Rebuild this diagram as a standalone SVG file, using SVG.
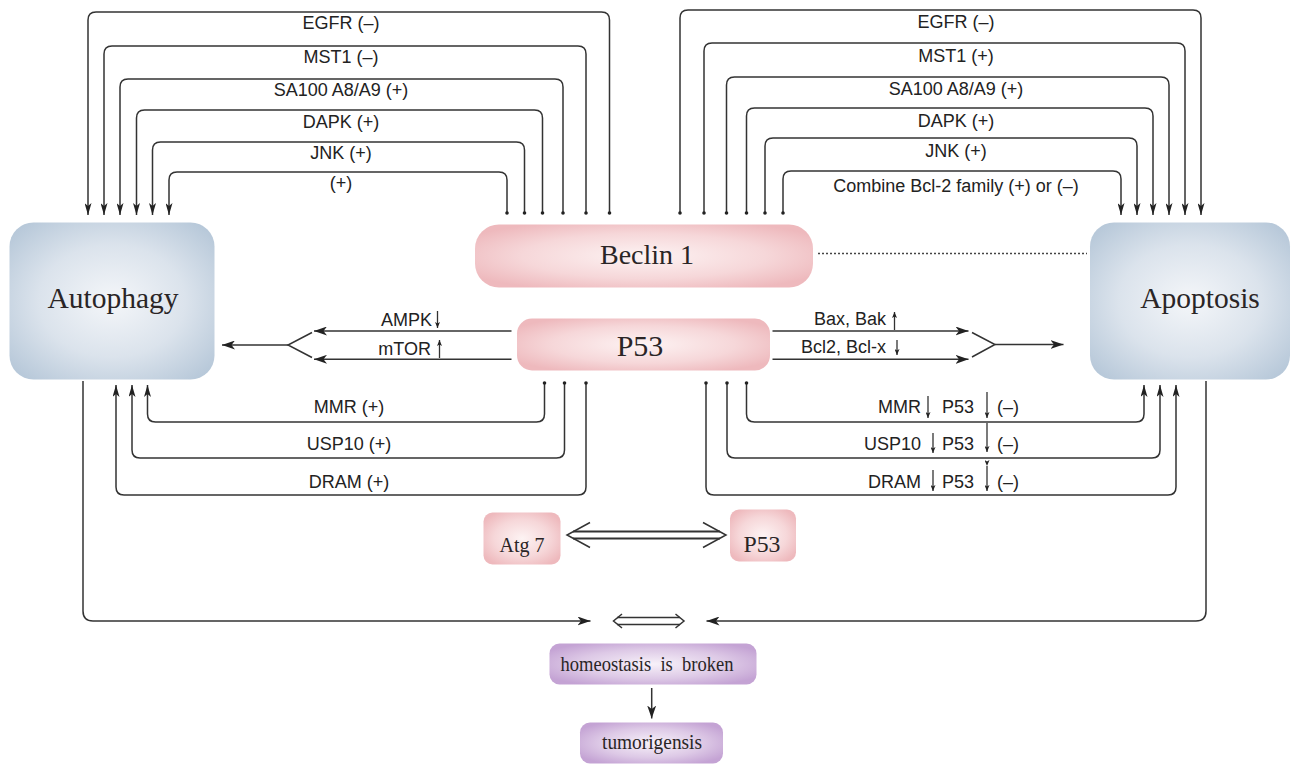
<svg xmlns="http://www.w3.org/2000/svg" width="1295" height="764" viewBox="0 0 1295 764">
<style>
.ln{fill:none;stroke:#333;stroke-width:1.5}
.sm{fill:none;stroke:#333;stroke-width:1.3}
.lab{font-family:"Liberation Sans",Arial,sans-serif;font-size:18px;fill:#222}
.ser{font-family:"Liberation Serif","Times New Roman",serif;fill:#2a2526}
.c{text-anchor:middle}
.e{text-anchor:end}
</style>
<defs>
<radialGradient id="gBlue" cx="50%" cy="50%" r="65%">
<stop offset="0" stop-color="#f4f6f9"/>
<stop offset="0.55" stop-color="#dbe3ec"/>
<stop offset="1" stop-color="#b7c8d9"/>
</radialGradient>
<radialGradient id="gPink" cx="50%" cy="50%" r="60%">
<stop offset="0" stop-color="#fdf3f3"/>
<stop offset="0.6" stop-color="#f6d7d9"/>
<stop offset="1" stop-color="#eeb9bd"/>
</radialGradient>
<radialGradient id="gPurple" cx="50%" cy="50%" r="60%">
<stop offset="0" stop-color="#f7f1f9"/>
<stop offset="0.6" stop-color="#ddc9e6"/>
<stop offset="1" stop-color="#c4a3d4"/>
</radialGradient>
<marker id="aV" markerUnits="userSpaceOnUse" markerWidth="13" markerHeight="7" refX="12" refY="3.5" orient="auto">
<path d="M0,0 L12,3.5 L0,7 L3,3.5 z" fill="#222"/>
</marker>
<marker id="aH" markerUnits="userSpaceOnUse" markerWidth="14" markerHeight="9" refX="13" refY="4.5" orient="auto">
<path d="M0,0 L13,4.5 L0,9 L3.5,4.5 z" fill="#222"/>
</marker>
<marker id="aS" markerUnits="userSpaceOnUse" markerWidth="7" markerHeight="5" refX="6" refY="2.5" orient="auto">
<path d="M0,0 L6,2.5 L0,5 L1.5,2.5 z" fill="#222"/>
</marker>
<marker id="dot" markerUnits="userSpaceOnUse" markerWidth="5" markerHeight="5" refX="2.5" refY="2.5">
<circle cx="2.5" cy="2.5" r="1.8" fill="#222"/>
</marker>
</defs>
<rect width="1295" height="764" fill="#ffffff"/>

<g id="connectors">
<path class="ln" marker-start="url(#dot)" marker-end="url(#aV)" d="M609.5 213 V20 Q609.5 12 601.5 12 H96 Q88 12 88 20 V215"/>
<path class="ln" marker-start="url(#dot)" marker-end="url(#aV)" d="M586 213 V54 Q586 46 578 46 H112 Q104 46 104 54 V215"/>
<path class="ln" marker-start="url(#dot)" marker-end="url(#aV)" d="M563 213 V87 Q563 79 555 79 H128 Q120 79 120 87 V215"/>
<path class="ln" marker-start="url(#dot)" marker-end="url(#aV)" d="M542.5 213 V118 Q542.5 110 534.5 110 H144.5 Q136.5 110 136.5 118 V215"/>
<path class="ln" marker-start="url(#dot)" marker-end="url(#aV)" d="M524.5 213 V150 Q524.5 142 516.5 142 H160.5 Q152.5 142 152.5 150 V215"/>
<path class="ln" marker-start="url(#dot)" marker-end="url(#aV)" d="M507 213 V180 Q507 172 499 172 H177 Q169 172 169 180 V215"/>
<path class="ln" marker-start="url(#dot)" marker-end="url(#aV)" d="M680 213 V18 Q680 10 688 10 H1193 Q1201 10 1201 18 V215"/>
<path class="ln" marker-start="url(#dot)" marker-end="url(#aV)" d="M704 213 V51 Q704 43 712 43 H1177 Q1185 43 1185 51 V215"/>
<path class="ln" marker-start="url(#dot)" marker-end="url(#aV)" d="M726.5 213 V85 Q726.5 77 734.5 77 H1161 Q1169 77 1169 85 V215"/>
<path class="ln" marker-start="url(#dot)" marker-end="url(#aV)" d="M746.5 213 V116 Q746.5 108 754.5 108 H1145 Q1153 108 1153 116 V215"/>
<path class="ln" marker-start="url(#dot)" marker-end="url(#aV)" d="M765 213 V146 Q765 138 773 138 H1129 Q1137 138 1137 146 V215"/>
<path class="ln" marker-start="url(#dot)" marker-end="url(#aV)" d="M783 213 V179 Q783 171 791 171 H1113 Q1121 171 1121 179 V215"/>
<line x1="818" y1="253.5" x2="1087" y2="253.5" stroke="#444" stroke-width="1.3" stroke-dasharray="2,2"/>
<path class="ln" marker-end="url(#aH)" d="M511.5 331 H314"/>
<path class="ln" marker-end="url(#aH)" d="M511.5 359.3 H314"/>
<path class="ln" d="M312 332.5 L288 345 L312 357.5"/>
<path class="ln" marker-end="url(#aH)" d="M288 345 H222"/>
<path class="ln" marker-end="url(#aH)" d="M772.5 331 H968.5"/>
<path class="ln" marker-end="url(#aH)" d="M772.5 359.3 H968.5"/>
<path class="ln" d="M972 332.5 L995 344.5 L972 357"/>
<path class="ln" marker-end="url(#aH)" d="M995 344.5 H1063.5"/>
<path class="ln" marker-start="url(#dot)" marker-end="url(#aV)" d="M544.5 383 V414 Q544.5 422 536.5 422 H155.5 Q147.5 422 147.5 414 V385"/>
<path class="ln" marker-start="url(#dot)" marker-end="url(#aV)" d="M564.5 383 V450 Q564.5 458 556.5 458 H140 Q132 458 132 450 V385"/>
<path class="ln" marker-start="url(#dot)" marker-end="url(#aV)" d="M586 383 V487 Q586 495 578 495 H124 Q116 495 116 487 V385"/>
<path class="ln" marker-start="url(#dot)" marker-end="url(#aV)" d="M746.5 383 V414 Q746.5 422 754.5 422 H1136 Q1144 422 1144 414 V385"/>
<path class="ln" marker-start="url(#dot)" marker-end="url(#aV)" d="M727 383 V450 Q727 458 735 458 H1152 Q1160 458 1160 450 V385"/>
<path class="ln" marker-start="url(#dot)" marker-end="url(#aV)" d="M706 383 V487 Q706 495 714 495 H1168 Q1176 495 1176 487 V385"/>
<line x1="573" y1="531.5" x2="720" y2="531.5" stroke="#333" stroke-width="1.8"/>
<line x1="573" y1="538.5" x2="720" y2="538.5" stroke="#333" stroke-width="1.8"/>
<path class="ln" stroke-width="1.8" d="M590 522.5 L567 535 L590 547.5"/>
<path class="ln" stroke-width="1.8" d="M703 522.5 L726 535 L703 547.5"/>
<path class="ln" marker-end="url(#aH)" d="M83 381 V611 Q83 621 93 621 H590.5"/>
<path class="ln" marker-end="url(#aH)" d="M1206 381 V611 Q1206 621 1196 621 H706.5"/>
<line x1="617" y1="617.5" x2="680" y2="617.5" stroke="#333" stroke-width="1.4"/>
<line x1="617" y1="624.5" x2="680" y2="624.5" stroke="#333" stroke-width="1.4"/>
<path class="ln" stroke-width="1.4" d="M622 614 L613.5 621 L622 628"/>
<path class="ln" stroke-width="1.4" d="M675.5 614 L684 621 L675.5 628"/>
<path class="ln" marker-end="url(#aH)" d="M651.7 688 V718.5"/>
</g>

<g id="labels">
<text class="lab c" x="341" y="29">EGFR (–)</text>
<text class="lab c" x="341" y="63">MST1 (–)</text>
<text class="lab c" x="341" y="96">SA100 A8/A9 (+)</text>
<text class="lab c" x="341" y="128">DAPK (+)</text>
<text class="lab c" x="341" y="159">JNK (+)</text>
<text class="lab c" x="341" y="189">(+)</text>
<text class="lab c" x="956" y="28">EGFR (–)</text>
<text class="lab c" x="956" y="62">MST1 (+)</text>
<text class="lab c" x="956" y="95">SA100 A8/A9 (+)</text>
<text class="lab c" x="956" y="127">DAPK (+)</text>
<text class="lab c" x="956" y="157">JNK (+)</text>
<text class="lab c" x="956" y="192">Combine Bcl-2 family (+) or (–)</text>
<text class="lab e" x="432" y="326">AMPK</text>
<path class="sm" marker-end="url(#aS)" d="M437.5 311 V328"/>
<text class="lab e" x="431" y="355">mTOR</text>
<path class="sm" marker-end="url(#aS)" d="M439.5 358 V340"/>
<text class="lab e" x="886" y="325">Bax, Bak</text>
<path class="sm" marker-end="url(#aS)" d="M894.5 330 V312"/>
<text class="lab e" x="886" y="353">Bcl2, Bcl-x</text>
<path class="sm" marker-end="url(#aS)" d="M897 340 V355"/>
<text class="lab c" x="349" y="413">MMR (+)</text>
<text class="lab c" x="349" y="450">USP10 (+)</text>
<text class="lab c" x="349" y="488">DRAM (+)</text>
<text class="lab e" x="921" y="413">MMR</text>
<path class="sm" marker-end="url(#aS)" d="M928 396 V418"/>
<text class="lab" x="942" y="413">P53</text>
<path class="sm" marker-end="url(#aS)" d="M987 392 V418"/>
<text class="lab" x="997" y="413">(–)</text>
<text class="lab e" x="921" y="450">USP10</text>
<path class="sm" marker-end="url(#aS)" d="M933 433 V453"/>
<text class="lab" x="942" y="450">P53</text>
<path class="sm" marker-end="url(#aS)" d="M987 423 V452"/>
<text class="lab" x="997" y="450">(–)</text>
<text class="lab e" x="921" y="488">DRAM</text>
<path class="sm" marker-end="url(#aS)" d="M933 470 V491"/>
<text class="lab" x="942" y="488">P53</text>
<path class="sm" marker-start="url(#aS)" marker-end="url(#aS)" d="M987 466 V491"/>
<text class="lab" x="997" y="488">(–)</text>
</g>

<g id="autophagy">
<rect x="9.5" y="222.5" width="205" height="157" rx="24" fill="url(#gBlue)"/>
<text class="ser c" x="113" y="308" font-size="29.5">Autophagy</text>
</g>
<g id="apoptosis">
<rect x="1090" y="222.5" width="200" height="157" rx="24" fill="url(#gBlue)"/>
<text class="ser c" x="1200" y="308" font-size="29.5">Apoptosis</text>
</g>
<g id="beclin1">
<rect x="475" y="224.5" width="338" height="63" rx="24" fill="url(#gPink)"/>
<text class="ser c" x="647" y="264" font-size="28">Beclin 1</text>
</g>
<g id="p53">
<rect x="517" y="318.5" width="253" height="52" rx="15" fill="url(#gPink)"/>
<text class="ser c" x="640" y="355.5" font-size="30">P53</text>
</g>
<g id="atg7">
<rect x="483.5" y="512.5" width="77" height="52" rx="9" fill="url(#gPink)"/>
<text class="ser c" x="522" y="552" font-size="20">Atg 7</text>
</g>
<g id="p53-small">
<rect x="730" y="509.5" width="66" height="52" rx="9" fill="url(#gPink)"/>
<text class="ser c" x="762" y="552" font-size="23" textLength="37" lengthAdjust="spacingAndGlyphs">P53</text>
</g>
<g id="homeostasis">
<rect x="549.5" y="643.5" width="207" height="41" rx="10" fill="url(#gPurple)"/>
<text class="ser c" x="647" y="670.5" font-size="21" xml:space="preserve" textLength="173" lengthAdjust="spacingAndGlyphs">homeostasis  is  broken</text>
</g>
<g id="tumorigensis">
<rect x="580" y="722.5" width="143" height="41" rx="10" fill="url(#gPurple)"/>
<text class="ser c" x="652" y="748.5" font-size="21" textLength="100" lengthAdjust="spacingAndGlyphs">tumorigensis</text>
</g>
</svg>
